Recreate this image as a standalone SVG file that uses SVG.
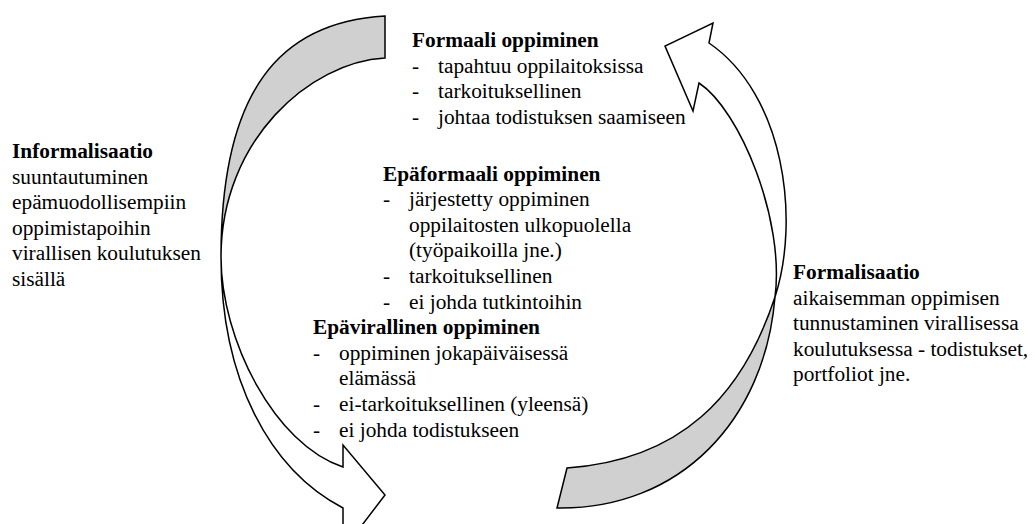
<svg xmlns="http://www.w3.org/2000/svg" width="1035" height="524" viewBox="0 0 1035 524">
<style>
.back{fill:#d0d0d0;stroke:#000;stroke-width:1.5;stroke-linejoin:miter}
.front{fill:#fff;stroke:#000;stroke-width:1.5;stroke-linejoin:miter}
text{font-family:"Liberation Serif","Times New Roman",serif;font-size:21.33px;fill:#000}
.h{font-weight:bold}
</style>
<rect width="1035" height="524" fill="#fff"/>
<g id="connectors">
<g id="arrow-informalisaatio">
<path class="back" d="M385,16 C280,22 221,90 221,257 C221,140 310,62 385,58 Z"/>
<path class="front" d="M221,257 C221,380 270,470 343,508 L343,550 L385,495 L343,445 L343,467 C275,445 221,340 221,257 Z"/>
</g>
<g id="arrow-formalisaatio">
<path class="front" d="M775,297 C800,220 785,95 709,43 L713,23 L665,46 L693,111 L699,83 C740,110 785,220 775,297 Z"/>
<path class="back" d="M775,297 C765,420 680,510 557,508 L567,468 C680,460 742,397 775,297 Z"/>
</g>
</g>
<g id="formaali">
<text class="h" x="412" y="47">Formaali oppiminen</text>
<text x="412" y="72.6">-</text><text x="438" y="72.6">tapahtuu oppilaitoksissa</text>
<text x="412" y="98.2">-</text><text x="438" y="98.2">tarkoituksellinen</text>
<text x="412" y="123.8">-</text><text x="438" y="123.8">johtaa todistuksen saamiseen</text>
</g>
<g id="epaformaali">
<text class="h" x="383" y="180.5">Epäformaali oppiminen</text>
<text x="383" y="206.1">-</text><text x="409" y="206.1">järjestetty oppiminen</text>
<text x="409" y="231.7">oppilaitosten ulkopuolella</text>
<text x="409" y="257.3">(työpaikoilla jne.)</text>
<text x="383" y="282.9">-</text><text x="409" y="282.9">tarkoituksellinen</text>
<text x="383" y="308.5">-</text><text x="409" y="308.5">ei johda tutkintoihin</text>
</g>
<g id="epavirallinen">
<text class="h" x="313" y="334.1">Epävirallinen oppiminen</text>
<text x="313" y="359.7">-</text><text x="339" y="359.7">oppiminen jokapäiväisessä</text>
<text x="339" y="385.3">elämässä</text>
<text x="313" y="410.9">-</text><text x="339" y="410.9">ei-tarkoituksellinen (yleensä)</text>
<text x="313" y="436.5">-</text><text x="339" y="436.5">ei johda todistukseen</text>
</g>
<g id="informalisaatio">
<text class="h" x="12" y="158">Informalisaatio</text>
<text x="12" y="183.6">suuntautuminen</text>
<text x="12" y="209.2">epämuodollisempiin</text>
<text x="12" y="234.8">oppimistapoihin</text>
<text x="12" y="260.4">virallisen koulutuksen</text>
<text x="12" y="286">sisällä</text>
</g>
<g id="formalisaatio">
<text class="h" x="793" y="279">Formalisaatio</text>
<text x="793" y="304.6">aikaisemman oppimisen</text>
<text x="793" y="330.2">tunnustaminen virallisessa</text>
<text x="793" y="355.8">koulutuksessa - todistukset,</text>
<text x="793" y="381.4">portfoliot jne.</text>
</g>
</svg>
